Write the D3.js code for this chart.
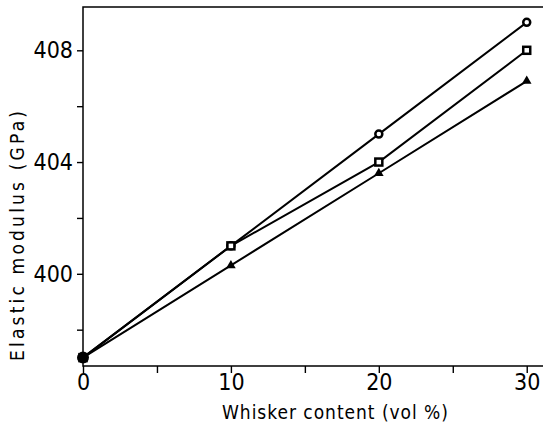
<!DOCTYPE html>
<html>
<head>
<meta charset="utf-8">
<style>
  body { margin: 0; background: #fff; }
  svg text { font-family: "DejaVu Sans Condensed", "DejaVu Sans", sans-serif; fill: #000; }
</style>
</head>
<body>
<svg id="graph" width="543" height="428"></svg>
<script src="https://d3js.org/d3.v7.min.js"></script>
<script>
// whisker content, vol %
var content = [0, 10, 20, 30];
// elastic modulus, GPa
var circleSeries = [397, 401, 405, 409];
var squareSeries = [397, 401, 404, 408];
var triangleSeries = [397, 400.3, 403.6, 406.9];

var xMajorTicks = [0, 10, 20, 30];
var xMinorTicks = [5, 15, 25];
var yMajorTicks = [400, 404, 408];
var yMinorTicks = [398, 402, 406];

var svg = d3.select("#graph");

var x = d3.scaleLinear().domain([0, 31.1]).range([83, 543]);
var y = d3.scaleLinear().domain([396.7, 409.55]).range([366, 7]);

// frame: top, left, bottom (no right edge)
svg.append("path")
    .attr("d", "M" + x.range()[1] + "," + y.range()[1] + "H" + x(0) + "V" + y.range()[0] + "H" + x.range()[1])
    .attr("fill", "none")
    .attr("stroke", "#000")
    .attr("stroke-width", 1.5);

// x axis
var xAxis = svg.append("g")
    .attr("transform", "translate(0," + y.range()[0] + ")")
    .call(d3.axisBottom(x).tickValues(xMajorTicks.concat(xMinorTicks))
        .tickSize(7).tickSizeOuter(0)
        .tickFormat(function (d) { return xMajorTicks.indexOf(d) >= 0 ? d : ""; }));
xAxis.select(".domain").remove();
xAxis.selectAll("line").attr("stroke-width", 1.4);
xAxis.selectAll("text").attr("font-size", 23).attr("y", 8);
xAxis.attr("font-family", null);

// y axis
var yAxis = svg.append("g")
    .attr("transform", "translate(" + x(0) + ",0)")
    .call(d3.axisLeft(y).tickValues(yMajorTicks.concat(yMinorTicks))
        .tickSize(6).tickSizeOuter(0)
        .tickFormat(function (d) { return yMajorTicks.indexOf(d) >= 0 ? d : ""; }));
yAxis.select(".domain").remove();
yAxis.selectAll("line").attr("stroke-width", 1.4);
yAxis.selectAll("text").attr("font-size", 23).attr("x", -10);
yAxis.attr("font-family", null);

// axis titles
svg.append("text")
    .attr("x", 335)
    .attr("y", 419)
    .attr("text-anchor", "middle")
    .attr("font-size", 19)
    .attr("textLength", 226)
    .attr("lengthAdjust", "spacing")
    .text("Whisker content (vol %)");

svg.append("text")
    .attr("transform", "translate(24,236) rotate(-90)")
    .attr("text-anchor", "middle")
    .attr("font-size", 19)
    .attr("textLength", 250)
    .attr("lengthAdjust", "spacing")
    .text("Elastic modulus (GPa)");

var line = d3.line()
    .x(function (d, i) { return x(content[i]); })
    .y(function (d) { return y(d); });

var series = [triangleSeries, squareSeries, circleSeries];
series.forEach(function (s) {
  svg.append("path")
      .datum(s)
      .attr("fill", "none")
      .attr("stroke", "#000")
      .attr("stroke-width", 2)
      .attr("d", line);
});

// markers
svg.selectAll(".circ").data(circleSeries).enter().append("circle")
    .attr("cx", function (d, i) { return x(content[i]); })
    .attr("cy", function (d) { return y(d); })
    .attr("r", 3.5)
    .attr("fill", "#fff")
    .attr("stroke", "#000")
    .attr("stroke-width", 2.5);

svg.selectAll(".sq").data(squareSeries).enter().append("rect")
    .attr("x", function (d, i) { return x(content[i]) - 3.5; })
    .attr("y", function (d) { return y(d) - 3.5; })
    .attr("width", 7)
    .attr("height", 7)
    .attr("fill", "#fff")
    .attr("stroke", "#000")
    .attr("stroke-width", 2.5);

svg.selectAll(".tri").data(triangleSeries).enter().append("path")
    .attr("transform", function (d, i) { return "translate(" + x(content[i]) + "," + y(d) + ")"; })
    .attr("d", d3.symbol().type(d3.symbolTriangle).size(40))
    .attr("fill", "#000");

// filled point at origin
svg.append("circle")
    .attr("cx", x(content[0]))
    .attr("cy", y(circleSeries[0]))
    .attr("r", 6)
    .attr("fill", "#000");
</script>
</body>
</html>
